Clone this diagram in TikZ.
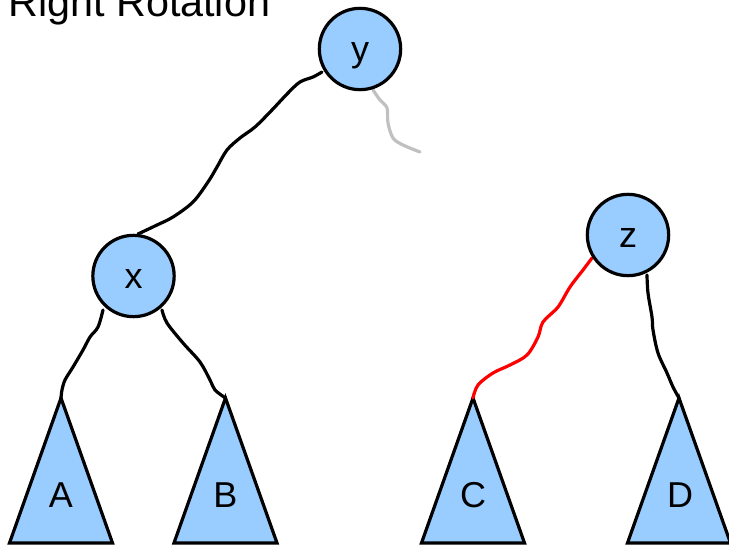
\documentclass[tikz,border=0pt]{standalone}
\usepackage{fontspec}
\setmainfont{Liberation Sans}
\definecolor{nodeblue}{RGB}{153,204,255}
\definecolor{ghost}{RGB}{192,192,192}
\begin{document}
\begin{tikzpicture}[x=0.75pt,y=-0.75pt,
  treenode/.style={circle,draw=black,fill=nodeblue,line width=2.4pt,minimum size=61pt,inner sep=0pt,
     font=\fontsize{27}{30}\selectfont,text height=19.5pt,text depth=0pt},
  subtree/.style={draw=black,fill=nodeblue,line width=2.4pt,line join=miter},
  sublabel/.style={anchor=base,inner sep=0pt,font=\fontsize{27}{30}\selectfont},
  link/.style={draw=black,line width=2.4pt,line cap=round,smooth,tension=0.55},
  redlink/.style={link,draw=red},
  greylink/.style={link,draw=ghost}]
\useasboundingbox (0,0) rectangle (729,545);
% title
\node[anchor=base west,inner sep=0pt,font=\fontsize{31}{36}\selectfont] (title) at (8,17) {Right Rotation};
% subtrees
\coordinate (Atop) at (61,398);
\coordinate (Btop) at (225.5,398);
\coordinate (Ctop) at (473,398);
\coordinate (Dtop) at (679,398);
\path[subtree] (Atop) -- ++(-51.5,145) -- ++(103,0) -- cycle;
\path[subtree] (Btop) -- ++(-51.5,145) -- ++(103,0) -- cycle;
\path[subtree] (Ctop) -- ++(-51.5,145) -- ++(103,0) -- cycle;
\path[subtree] (Dtop) -- ++(-51.5,145) -- ++(103,0) -- cycle;
\node[sublabel] (A) at (61,508) {A};
\node[sublabel] (B) at (225.5,508) {B};
\node[sublabel] (C) at (473,508) {C};
\node[sublabel] (D) at (680,508) {D};
% connectors
\coordinate (loose) at (420,152);
\draw[link] plot coordinates {(322,72) (313,77) (300,82) (288,93) (272,110) (255,127) (240,138) (227,150) (217,167) (208,182) (193,202) (173,217) (157,225) (138,234)};
\draw[greylink] plot coordinates {(373,90) (380,100) (387,108) (388,123) (393,138) (403,145) (loose)};
\draw[link] plot coordinates {(103,310) (98,327) (90,337) (83,350) (73,367) (65,380) (62,390) (Atop)};
\draw[link] plot coordinates {(162,310) (167,323) (183,343) (200,362) (210,380) (215,390) (Btop)};
\draw[redlink] plot coordinates {(592,258) (583,270) (570,287) (558,307) (543,322) (538,337) (527,355) (510,365) (493,373) (478,385) (Ctop)};
\draw[link] plot coordinates {(647,275) (648,293) (652,317) (653,330) (658,353) (667,373) (673,387) (Dtop)};
% tree nodes
\node[treenode] (y) at (360,49) {y};
\node[treenode] (x) at (133.5,276) {x};
\node[treenode] (z) at (628,235) {z};
\end{tikzpicture}
\end{document}
